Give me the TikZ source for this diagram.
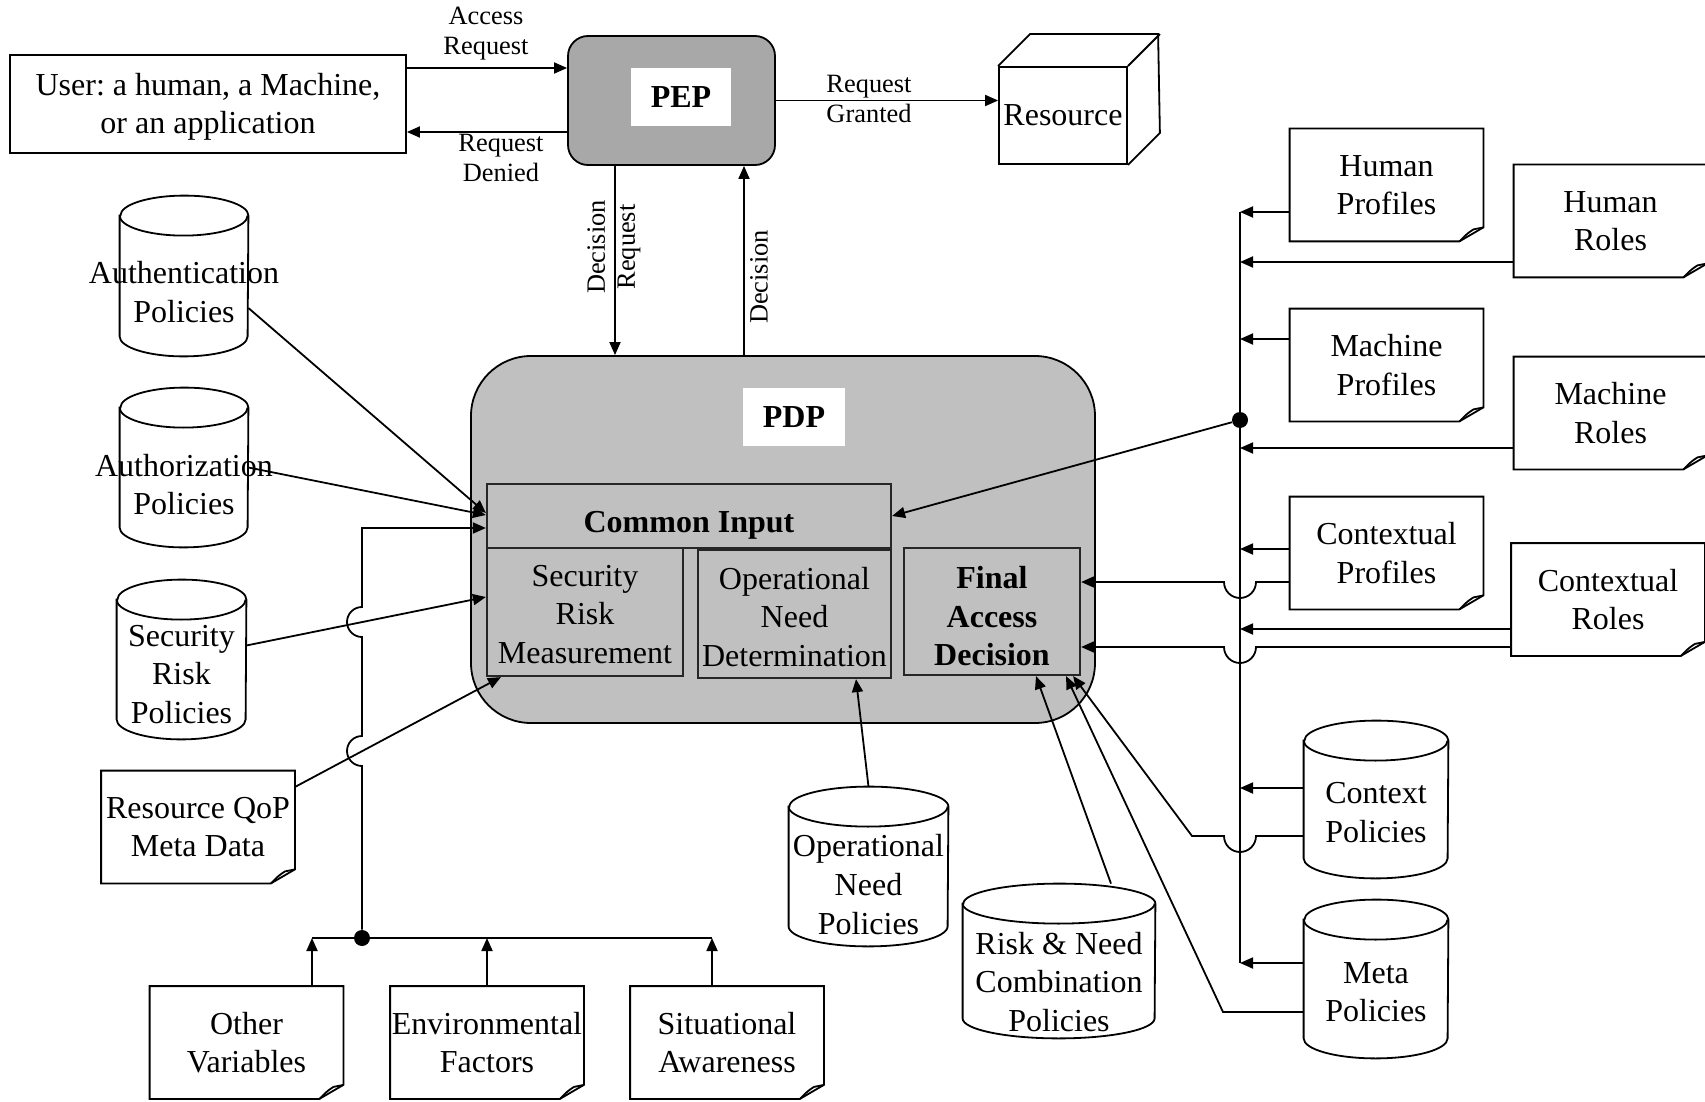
\documentclass[tikz,border=0pt]{standalone}
\usepackage{fontspec}
\setmainfont{Liberation Serif}
\usetikzlibrary{arrows.meta}

\definecolor{pepfill}{RGB}{168,168,168}
\definecolor{pdpfill}{RGB}{192,192,192}

\newcommand\paper[3]{%
  \node[paperbox] (#1) at #2 {#3};
  \draw[wire] (#1.south west) -- (#1.north west) -- (#1.north east) -- ([yshift=7pt]#1.south east) -- ([xshift=-12pt]#1.south east) -- cycle;
  \draw[wire] ([yshift=7pt]#1.south east) -- ([xshift=-5pt,yshift=6pt]#1.south east) .. controls ([xshift=-8pt,yshift=4pt]#1.south east) .. ([xshift=-12pt]#1.south east);
}
\newcommand\drum[6]{%
  \node[minimum width=#3, minimum height=#4, inner sep=0pt] (#1) at #2 {};
  \draw[wire] ([yshift=-10pt]#1.north west) -- ([yshift=10pt]#1.south west)
    arc[start angle=180, end angle=360, x radius=#3/2, y radius=10pt]
    -- ([yshift=-10pt]#1.north east)
    arc[start angle=0, end angle=180, x radius=#3/2, y radius=10pt] -- cycle;
  \draw[wire] ([yshift=-10pt]#1.north west) arc[start angle=180, end angle=360, x radius=#3/2, y radius=10pt];
  \node[txt] (#1-t) at ([yshift=#5]#1.center) {#6};
}

\begin{document}
\begin{tikzpicture}[x=0.5pt, y=-0.5pt,
    wire/.style={line width=0.9pt},
    arr/.style={line width=0.9pt, -{Triangle[length=6.5pt,width=5.5pt]}},
    txt/.style={font=\fontsize{16}{19.3}\selectfont, align=center, inner sep=0pt},
    lbl/.style={font=\fontsize{13.2}{15}\selectfont, align=center, inner sep=0pt},
    bold/.style={font=\fontsize{16}{19.3}\selectfont\bfseries},
    box/.style={txt, draw, line width=0.9pt},
    paperbox/.style={txt, minimum width=96.5pt, minimum height=56pt},
    part/.style={txt, draw=black!85, line width=1.1pt},
    tag/.style={txt, bold, fill=white, minimum width=50pt, minimum height=29pt},
    jdot/.style={circle, fill, inner sep=0pt, minimum size=8pt}]
  \useasboundingbox (0,0) rectangle (1705,1102);

  \node[box, minimum width=198pt, minimum height=49pt] (user) at (208,104) {\rule{0pt}{14pt}User:\ a human, a Machine,\\or an application};
  \node[draw, line width=0.9pt, fill=pepfill, rounded corners=10pt, minimum width=103.5pt, minimum height=64.5pt] (pep) at (671.5,100.5) {};
  \node[tag] (peptag) at (681,97) {PEP};
  \node[box, minimum width=64pt, minimum height=48.5pt] (res) at (1063,115.5) {Resource};
  \draw[wire] (res.north west) -- ++(16pt,16pt) -- ++(64pt,0pt) -- ([shift={(16pt,16pt)}]res.south east) -- (res.south east);
  \draw[wire] (res.north east) -- ++(16pt,16pt);

  \node[draw, line width=0.9pt, fill=pdpfill, rounded corners=30pt, minimum width=312pt, minimum height=183.5pt] (pdp) at (783,539.5) {};
  \node[tag, minimum width=51pt] (pdptag) at (794,417) {PDP};
  \node[part, bold, text height=20pt, minimum width=202pt, minimum height=32pt] (common) at (689,516) {Common Input};
  \node[part, minimum width=98pt, minimum height=64pt] (srm) at (585,612) {\rule{0pt}{13pt}Security\\Risk\\Measurement};
  \node[part, minimum width=96.5pt, minimum height=64pt] (ond) at (794.5,614) {\rule{0pt}{14pt}Operational\\Need\\Determination};
  \node[part, bold, minimum width=88pt, minimum height=63.5pt] (fad) at (992,611.5) {\rule{0pt}{16pt}Final\\Access\\Decision};

  \node[lbl] (accl) at (486,34) {Access\\Request};
  \node[lbl] (denl) at (501,158) {Request\\Denied};
  \node[lbl] (grl) at (869,99) {Request\\Granted};
  \node[lbl, rotate=90] (dreql) at (614,247) {Decision\\Request};
  \node[lbl, rotate=90] (decl) at (759,277) {Decision};

  \drum{authn}{(184,276)}{64pt}{80pt}{-8pt}{Authentication\\Policies}
  \drum{authz}{(184,467.5)}{64pt}{79.5pt}{-8.5pt}{Authorization\\Policies}
  \drum{srp}{(181.5,659.5)}{64.5pt}{79.5pt}{-7.5pt}{Security\\Risk\\Policies}
  \drum{onp}{(868.5,866.5)}{79.5pt}{79.5pt}{-9pt}{Operational\\Need\\Policies}
  \drum{rnp}{(1059,961)}{96pt}{77pt}{-10.5pt}{Risk \& Need\\Combination\\Policies}
  \drum{cxp}{(1376,799.5)}{72pt}{78.5pt}{-6.5pt}{Context\\Policies}
  \drum{mtp}{(1376,979)}{72pt}{79pt}{-6.5pt}{Meta\\Policies}

  \paper{qop}{(198,827)}{Resource QoP\\Meta Data}
  \paper{other}{(246.5,1042.5)}{Other\\Variables}
  \paper{env}{(487,1042.5)}{Environmental\\Factors}
  \paper{sit}{(727,1042.5)}{Situational\\Awareness}
  \paper{hprof}{(1386.5,185)}{Human\\Profiles}
  \paper{hrole}{(1610.5,221)}{Human\\Roles}
  \paper{mprof}{(1386.5,365)}{Machine\\Profiles}
  \paper{mrole}{(1610.5,413)}{Machine\\Roles}
  \paper{cprof}{(1386.5,553)}{Contextual\\Profiles}
  \paper{crole}{(1608,599.5)}{Contextual\\Roles}

  \coordinate (acc) at ([yshift=18pt]user.east);
  \coordinate (den) at ([yshift=-15.75pt]pep.west);
  \coordinate (dreq) at ([xshift=-28.25pt]pep.south);
  \coordinate (dec) at ([xshift=36.25pt]pep.south);
  \coordinate (cin) at ([yshift=-6pt]common.west);
  \coordinate (bl) at (312,938);
  \coordinate (br) at (712,938);
  \coordinate (rbus) at (1240,212);
  \coordinate (rend) at (1240,963);
  \node[jdot] (vdot) at (362,938) {};
  \node[jdot] (rdot) at (1240,420) {};

  \draw[arr] (acc) -- (acc -| pep.west);
  \draw[arr] (den) -- (den -| user.east);
  \draw[arr] (pep.east) -- (pep.east -| res.west);
  \draw[arr] (dreq) -- (dreq |- pdp.north);
  \draw[arr] (dec |- pdp.north) -- (dec);

  \draw[arr] ([yshift=-16pt]authn.east) -- ([yshift=1.5pt]common.west);
  \draw[arr] (authz.east) -- ([yshift=0.5pt]common.west);
  \draw[arr] ([yshift=7pt]srp.east) -- ([yshift=7.5pt]srm.west);
  \draw[arr] ([yshift=20pt]qop.east) -- ([xshift=7.5pt]srm.south west);
  \draw[arr] (vdot) -- (362,766) arc[start angle=-90, end angle=-270, radius=7.5pt] -- (362,637) arc[start angle=-90, end angle=-270, radius=7.5pt] -- (vdot |- cin) -- (cin);

  \draw[wire] (bl) -- (br);
  \draw[arr] ([xshift=32.75pt]other.north) -- (bl);
  \draw[arr] (env.north) -- (env.north |- bl);
  \draw[arr] ([xshift=-7.5pt]sit.north) -- (br);

  \draw[arr] (onp.north) -- ([xshift=30.75pt]ond.south);
  \draw[arr] ([xshift=26pt]rnp.north) -- ([xshift=22pt]fad.south);

  \draw[wire] (rbus) -- (rend);
  \foreach \nm/\sh in {hprof/-13.5pt, hrole/-20.5pt, mprof/13pt, mrole/-17.5pt, cprof/2pt, crole/-14.75pt, cxp/5.75pt, mtp/8pt} {
    \coordinate (p) at ([yshift=\sh]\nm.west);
    \draw[arr] (p) -- (p -| rbus);
  }
  \draw[arr] (rdot) -- (common.east);

  \draw[arr] ([yshift=-14.5pt]cprof.west) -- (1256,582) arc[start angle=0, end angle=-180, radius=8pt] -- ([yshift=14.75pt]fad.east);
  \draw[arr] ([yshift=-23.75pt]crole.west) -- (1256,647) arc[start angle=0, end angle=-180, radius=8pt] -- ([yshift=-17.75pt]fad.east);
  \draw[arr] ([yshift=-18.25pt]cxp.west) -- (1256,836) arc[start angle=0, end angle=-180, radius=8pt] -- (1192,836) -- ([xshift=-4pt]fad.south east);
  \draw[arr] ([yshift=-16.5pt]mtp.west) -- (1223,1012) -- ([xshift=-7.5pt]fad.south east);
\end{tikzpicture}
\end{document}
